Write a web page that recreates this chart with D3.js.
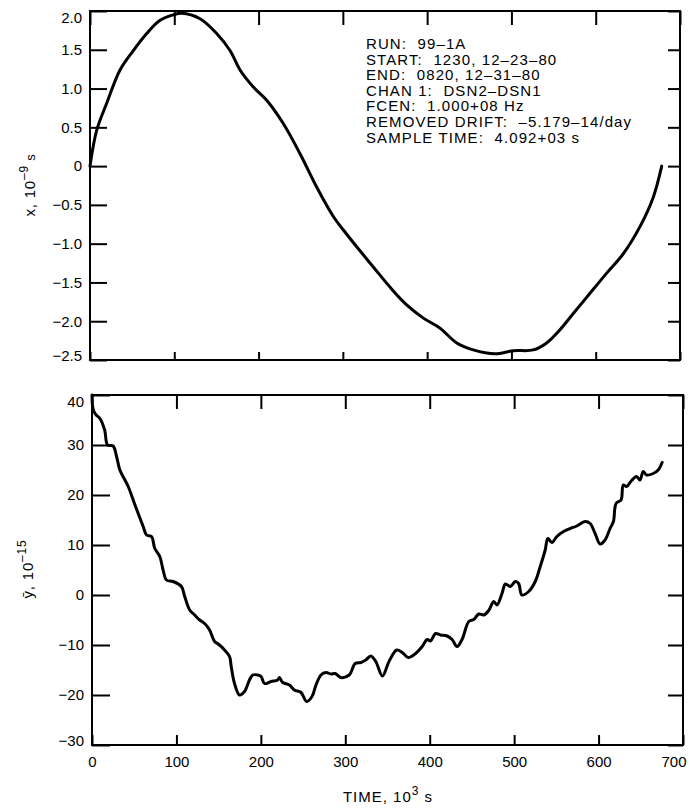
<!DOCTYPE html>
<html>
<head>
<meta charset="utf-8">
<script src="https://cdn.jsdelivr.net/npm/d3@7"></script>
<style>
  body { margin: 0; background: #fff; }
  svg { display: block; font-family: "Liberation Sans", Arial, sans-serif; }
  .tick text { font-size: 15px; fill: #000; font-family: "Liberation Sans", Arial, sans-serif; }
  .tick line { stroke: #000; stroke-width: 2; }
</style>
</head>
<body>
<div id="viz"></div>
<script>
// x (phase) residuals, top panel
const timeTop = [0, 7.9, 19.8, 35.6, 51.4, 67.3, 83.1, 98.8, 108.8, 130.5, 150.3, 166.1, 178, 193.8, 209.6, 229.3,
    249.2, 268.9, 288.7, 302.5, 316.4, 336.1, 355.9, 375.7, 395.5, 415.3, 435.1, 454.8, 480.5, 502.2, 525.9,
    541.8, 557.6, 573.4, 593.2, 613, 632.7, 652.5, 668.3, 678.3];
const phaseX = [0, 0.46, 0.81, 1.24, 1.49, 1.71, 1.88, 1.95, 1.97, 1.90, 1.71, 1.49, 1.24, 1.02, 0.85, 0.55,
    0.16, -0.27, -0.65, -0.85, -1.04, -1.30, -1.56, -1.79, -1.96, -2.09, -2.28, -2.37, -2.42, -2.38, -2.37,
    -2.28, -2.11, -1.90, -1.64, -1.38, -1.13, -0.78, -0.40, 0];

// mean fractional frequency, bottom panel
const timeBot = [0, 0.5, 2, 5, 9.4, 15, 18.5, 25, 29.1, 33, 39, 42.9, 48.8, 54.7, 60.6, 64.6, 70.5, 74.4, 80.3,
    84.2, 88.2, 96, 105.9, 109.8, 115.7, 121.6, 127.5, 133.4, 139.3, 145.2, 151.1, 157, 162.9, 164.9, 168.8,
    174.7, 180.6, 186.5, 190.4, 196.3, 200.3, 204.2, 212.1, 219.9, 222, 225.9, 233.8, 239.7, 247.6, 254.2,
    260.6, 265.3, 271.2, 277.1, 283, 288.1, 294.8, 304.6, 311.7, 318.4, 324.3, 330.2, 336.1, 344, 351.8,
    360.9, 367.5, 374.6, 383.3, 391.1, 397, 401, 406.9, 412.8, 420.6, 426.5, 432.4, 438.3, 446.3, 452.2,
    458.1, 464, 469.9, 475.8, 479.7, 485.6, 489.6, 495.5, 501.4, 505.3, 509.2, 517.2, 525, 530.9, 536.8,
    539.9, 544.7, 550.6, 558.5, 566.4, 574.2, 584.1, 590, 595.9, 601.8, 607.7, 613.6, 617.6, 620.7, 626.6,
    629.3, 633.2, 639.1, 645, 649, 652.9, 656.8, 664.7, 670.6, 675.3];
const freqY = [40, 38, 36.8, 36, 35.3, 33, 30, 29.8, 27.7, 25, 23, 21.7, 19, 16.3, 13.7, 12, 11.7, 9.3, 7.7,
    5, 3, 2.7, 1.7, -0.3, -3, -4, -5, -5.7, -7, -9.3, -10, -11, -12.3, -14.3, -17.7,
    -20, -19.3, -17, -16, -16, -16.3, -17.7, -17.3, -17, -16.5, -17.5, -18, -19, -19.5, -21.3,
    -20.3, -18, -16, -15.5, -15.8, -15.7, -16.5, -16, -13.7, -13.5, -13, -12.2, -13.3, -16.2, -13.3,
    -11, -11.5, -12.5, -11.7, -10.3, -8.9, -9.2, -7.7, -8, -8.2, -8.9, -10.3, -8.9, -5.3, -4.9,
    -3.8, -4, -3.1, -1.3, -2, 0.3, 2.2, 1.7, 2.7, 2.3, 0, 0.7, 2.7, 5.7, 9,
    11.3, 10.5, 11.7, 12.7, 13.3, 13.8, 14.7, 14.3, 12.3, 10.2, 11, 13.3, 14.7, 18.3, 19,
    22, 21.7, 22.9, 23.7, 23, 24.7, 24, 24.3, 25, 26.5];

const timeTicks = [0, 100, 200, 300, 400, 500, 600, 700];
const phaseTicks = [2.0, 1.5, 1.0, 0.5, 0, -0.5, -1.0, -1.5, -2.0, -2.5];
const freqTicks = [40, 30, 20, 10, 0, -10, -20, -30];

const runInfo = [
    "RUN:  99\u20131A",
    "START:  1230, 12\u201323\u201380",
    "END:  0820, 12\u201331\u201380",
    "CHAN 1:  DSN2\u2013DSN1",
    "FCEN:  1.000+08 Hz",
    "REMOVED DRIFT:  \u20135.179\u201314/day",
    "SAMPLE TIME:  4.092+03 s"
];

const fullWidth = 690;
const fullHeight = 812;

const svg = d3.select("#viz").append("svg")
    .attr("width", fullWidth)
    .attr("height", fullHeight);

const drawPanel = function(p) {
    const g = svg.append("g");
    const x0 = p.x.range()[0], x1 = p.x.range()[1];
    const yb = p.y.range()[0], yt = p.y.range()[1];
    const [lo, hi] = p.y.domain();
    const xMax = p.x.domain()[1];

    // left axis with labels
    g.append("g")
        .attr("transform", `translate(${x0},0)`)
        .call(d3.axisLeft(p.y).tickValues(p.yTicks).tickSize(-p.tl.left).tickPadding(8)
            .tickFormat(p.yFormat))
        .call(a => a.select(".domain").remove())
        .call(a => a.selectAll(".tick text")
            .attr("dy", d => d === hi ? "0.75em" : d === lo ? "0em" : "0.32em"));

    // right axis ticks
    g.append("g")
        .attr("transform", `translate(${x1},0)`)
        .call(d3.axisRight(p.y).tickValues(p.yTicks).tickSize(-p.tl.right).tickFormat(""))
        .call(a => a.select(".domain").remove());

    // top axis ticks
    g.append("g")
        .attr("transform", `translate(0,${yt})`)
        .call(d3.axisTop(p.x).tickValues(timeTicks).tickSize(-p.tl.top).tickFormat(""))
        .call(a => a.select(".domain").remove());

    // bottom axis
    g.append("g")
        .attr("transform", `translate(0,${yb})`)
        .call(d3.axisBottom(p.x).tickValues(timeTicks).tickSize(-p.tl.bottom).tickPadding(11)
            .tickFormat(p.showX ? d3.format("d") : ""))
        .call(a => a.select(".domain").remove())
        .call(a => a.selectAll(".tick text")
            .filter(d => d === xMax)
            .attr("text-anchor", "end")
            .attr("dx", 3));

    // frame
    g.append("rect")
        .attr("x", x0)
        .attr("y", yt)
        .attr("width", x1 - x0)
        .attr("height", yb - yt)
        .attr("fill", "none")
        .attr("stroke", "black")
        .attr("stroke-width", 2);

    const line = d3.line()
        .x(d => p.x(d[0]))
        .y(d => p.y(d[1]))
        .curve(d3.curveCatmullRom.alpha(0.5));

    g.append("path")
        .datum(d3.zip(p.xs, p.ys))
        .attr("fill", "none")
        .attr("stroke", "black")
        .attr("stroke-width", 3)
        .attr("stroke-linejoin", "round")
        .attr("stroke-linecap", "round")
        .attr("d", line);

    return g;
}

// top panel
const xTop = d3.scaleLinear().domain([0, 700]).range([90, 680]);
const yTop = d3.scaleLinear().domain([-2.5, 2.0]).range([360, 11]);

const topPanel = drawPanel({
    x: xTop, y: yTop, xs: timeTop, ys: phaseX,
    yTicks: phaseTicks,
    yFormat: d => d === 0 ? "0" : d3.format(".1f")(d),
    tl: { left: 17, right: 12, top: 14, bottom: 8 },
    showX: false
});

topPanel.append("g")
    .selectAll("text")
    .data(runInfo)
    .enter().append("text")
        .attr("x", 366)
        .attr("y", (d, i) => 49 + i * 15.6)
        .style("font-size", "15px")
        .style("letter-spacing", "1.1px")
        .style("white-space", "pre")
        .text(d => d);

// bottom panel
const xBot = d3.scaleLinear().domain([0, 700]).range([92, 683]);
const yBot = d3.scaleLinear().domain([-30, 40]).range([745, 395]);

drawPanel({
    x: xBot, y: yBot, xs: timeBot, ys: freqY,
    yTicks: freqTicks,
    yFormat: d3.format("d"),
    tl: { left: 18, right: 15, top: 14, bottom: 10 },
    showX: true
});

// axis titles
const yTitleTop = svg.append("text")
    .attr("transform", "translate(35,185) rotate(-90)")
    .attr("text-anchor", "middle")
    .style("font-size", "15px")
    .style("letter-spacing", "0.8px");
yTitleTop.append("tspan").text("x, 10");
yTitleTop.append("tspan").attr("dy", -7).style("font-size", "12px").text("\u20139");
yTitleTop.append("tspan").attr("dy", 7).style("font-size", "13px").text(" s");

const yTitleBot = svg.append("text")
    .attr("transform", "translate(33,569) rotate(-90)")
    .attr("text-anchor", "middle")
    .style("font-size", "15px")
    .style("letter-spacing", "0.8px");
yTitleBot.append("tspan").text("\u0233, 10");
yTitleBot.append("tspan").attr("dy", -7).style("font-size", "12px").text("\u201315");

const xTitle = svg.append("text")
    .attr("x", 388)
    .attr("y", 802)
    .attr("text-anchor", "middle")
    .style("font-size", "15px")
    .style("letter-spacing", "1px");
xTitle.append("tspan").text("TIME, 10");
xTitle.append("tspan").attr("dy", -7).style("font-size", "12px").text("3");
xTitle.append("tspan").attr("dy", 7).text(" s");
</script>
</body>
</html>
